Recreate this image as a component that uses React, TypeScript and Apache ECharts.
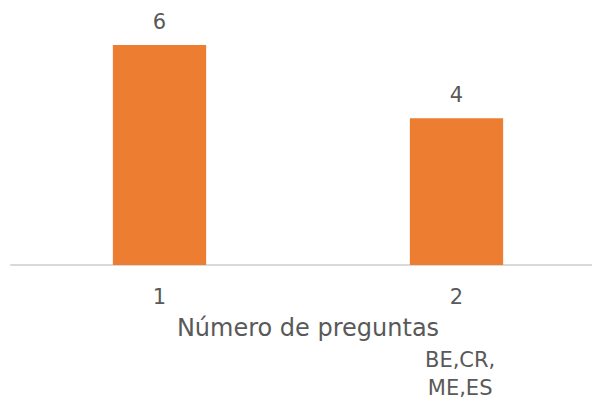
import React, { useEffect, useRef } from "react";
import * as echarts from "echarts";

const categories = ["1", "2"];
const values = [6, 4];
const axisTitle = "Número de preguntas";
const noteLines = ["BE,CR,", "ME,ES"];

const FONT = "'DejaVu Sans', sans-serif";
const GRAY = "#595959";

export default function App() {
  const ref = useRef<HTMLDivElement>(null);
  useEffect(() => {
    if (!ref.current) return;
    const chart = echarts.init(ref.current, undefined, { renderer: "svg" });
    chart.setOption({
      animation: false,
      grid: { left: 11, top: 45, width: 594, height: 220, containLabel: false },
      xAxis: {
        type: "category",
        data: categories,
        name: axisTitle,
        nameLocation: "middle",
        nameGap: 51,
        nameTextStyle: { color: GRAY, fontSize: 24, fontFamily: FONT },
        axisLine: { lineStyle: { color: "#D9D9D9", width: 2 } },
        axisTick: { show: false },
        axisLabel: { color: GRAY, fontSize: 21, fontFamily: FONT, margin: 21 },
      },
      yAxis: {
        type: "value",
        min: 0,
        max: 6,
        show: false,
        splitLine: { show: false },
      },
      series: [
        {
          type: "bar",
          data: values,
          barWidth: "31.4%",
          itemStyle: { color: "#ED7D31" },
          label: {
            show: true,
            position: "top",
            distance: 13,
            color: GRAY,
            fontSize: 21,
            fontFamily: FONT,
          },
        },
      ],
      graphic: [
        {
          type: "text",
          left: 425,
          top: 346,
          style: {
            text: noteLines.join("\n"),
            fill: GRAY,
            fontSize: 21,
            fontFamily: FONT,
            lineHeight: 28,
            textAlign: "center",
          },
        },
      ],
    });
    return () => chart.dispose();
  }, []);
  return (
    <div style={{ width: 592, height: 402, position: "absolute", left: 0, top: 0, overflow: "hidden" }}>
      <div ref={ref} style={{ width: 606, height: 402 }} />
    </div>
  );
}
